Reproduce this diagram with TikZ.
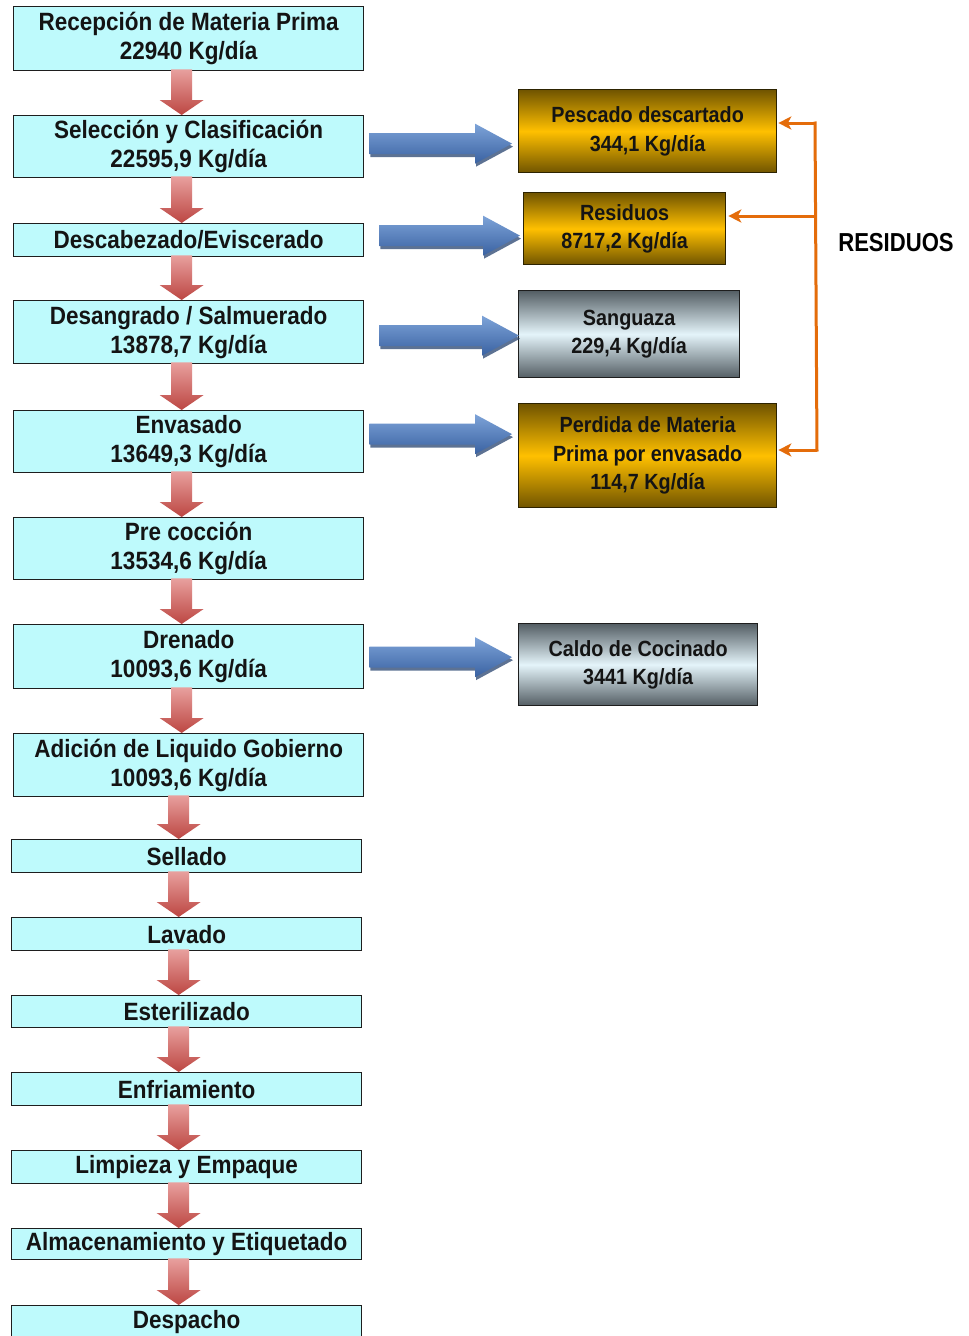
\documentclass[tikz,border=0pt]{standalone}
\usepackage{fontspec}
\newfontfamily\boxfont{Liberation Sans}[FakeStretch=0.9]
\newfontfamily\labfont{Liberation Sans}[FakeStretch=0.85]
\usetikzlibrary{calc,arrows.meta}
\definecolor{cyanfill}{RGB}{190,250,252}
\definecolor{boxline}{RGB}{30,30,30}
\definecolor{textdark}{RGB}{20,20,20}
\definecolor{golddark}{RGB}{112,84,0}
\definecolor{goldmid}{RGB}{255,192,0}
\definecolor{goldline}{RGB}{45,35,0}
\definecolor{graydark}{RGB}{84,94,100}
\definecolor{graymid}{RGB}{228,244,250}
\definecolor{redtop}{RGB}{232,160,158}
\definecolor{redbot}{RGB}{188,70,66}
\definecolor{bluetop}{RGB}{125,163,216}
\definecolor{bluebot}{RGB}{58,98,162}
\definecolor{blueshad}{RGB}{40,68,112}
\definecolor{orangeln}{RGB}{228,108,10}
\newcommand\redarrow[2]{%
  \shade[redarr] ($(#1)+(-10.5,0)$) -- ($(#2)+(-10.5,-15)$) -- ($(#2)+(-22,-15)$) -- (#2)
    -- ($(#2)+(22,-15)$) -- ($(#2)+(10.5,-15)$) -- ($(#1)+(10.5,0)$) -- cycle;}
\newcommand\bluepath[4]{%
  ($(#1)+(#3,{#4-10.5})$) -- ($(#2)+({#3-37},{#4-10.5})$) -- ($(#2)+({#3-37},{#4-20})$)
  -- ($(#2)+(#3,#4)$) -- ($(#2)+({#3-37},{#4+20})$) -- ($(#2)+({#3-37},{#4+10.5})$)
  -- ($(#1)+(#3,{#4+10.5})$) -- cycle}
\newcommand\bluearrow[2]{%
  \fill[blueshad,opacity=0.75] \bluepath{#1}{#2}{1}{3};
  \shade[top color=bluetop,bottom color=bluebot] \bluepath{#1}{#2}{0}{0};}
\begin{document}
\begin{tikzpicture}[x=1pt,y=-1pt,
  lbox/.style={draw=boxline,line width=1.3pt,fill=cyanfill,anchor=north west,
    inner sep=0pt,align=center,text=textdark,minimum width=350pt,
    font=\boxfont\bfseries\fontsize{25}{29}\selectfont},
  rbox/.style={draw=goldline,line width=1.3pt,anchor=north west,inner sep=0pt,
    align=center,text=textdark,font=\boxfont\bfseries\fontsize{22}{28.5}\selectfont},
  goldbox/.style={rbox,top color=golddark,bottom color=golddark,middle color=goldmid},
  graybox/.style={rbox,draw=boxline,top color=graydark,bottom color=graydark,middle color=graymid},
  redarr/.style={top color=redtop,bottom color=redbot},
  oline/.style={draw=orangeln,line width=3pt},
  oarr/.style={oline,-{Stealth[length=13pt,width=13pt,inset=3.5pt]}}]
\useasboundingbox (0,0) rectangle (969,1336);
\fill[white] (0,0) rectangle (969,1336);
% left column
\node[lbox,minimum height=64pt] (b1) at (13,6) {Recepción de Materia Prima\\22940 Kg/día};
\node[lbox,minimum height=62pt] (b2) at (13,115) {Selección y Clasificación\\22595,9 Kg/día};
\node[lbox,minimum height=33pt] (b3) at (13,223) {Descabezado/Eviscerado};
\node[lbox,minimum height=63pt] (b4) at (13,300) {Desangrado / Salmuerado\\13878,7 Kg/día};
\node[lbox,minimum height=62pt] (b5) at (13,410) {Envasado\\13649,3 Kg/día};
\node[lbox,minimum height=62pt] (b6) at (13,517) {Pre cocción\\13534,6 Kg/día};
\node[lbox,minimum height=64pt] (b7) at (13,624) {Drenado\\10093,6 Kg/día};
\node[lbox,minimum height=63pt] (b8) at (13,733) {Adición de Liquido Gobierno\\10093,6 Kg/día};
\node[lbox,minimum height=33pt] (b9) at (11,839) {Sellado};
\node[lbox,minimum height=33pt] (b10) at (11,917) {Lavado};
\node[lbox,minimum height=32pt] (b11) at (11,995) {Esterilizado};
\node[lbox,minimum height=33pt] (b12) at (11,1072) {Enfriamiento};
\node[lbox,minimum height=33pt] (b13) at (11,1150) {Limpieza y Empaque};
\node[lbox,minimum height=31pt] (b14) at (11,1228) {Almacenamiento y Etiquetado};
\node[lbox,minimum height=33pt] (b15) at (11,1305) {Despacho};
% red arrows
\foreach \i/\j/\dx in {b1/b2/-7,b2/b3/-7,b3/b4/-7,b4/b5/-7,b5/b6/-7,b6/b7/-7,b7/b8/-7,
  b8/b9/-10,b9/b10/-8,b10/b11/-8,b11/b12/-8,b12/b13/-8,b13/b14/-8,b14/b15/-8}{
  \coordinate (rs) at ($(\i.south)+(\dx,-2)$);
  \coordinate (rt) at (rs |- \j.north);
  \redarrow{rs}{rt}
}
% right boxes
\node[goldbox,minimum width=258pt,minimum height=83pt] (r1) at (518,89) {Pescado descartado\\344,1 Kg/día};
\node[goldbox,minimum width=202pt,minimum height=72pt] (r2) at (523,192) {Residuos\\8717,2 Kg/día};
\node[graybox,minimum width=221pt,minimum height=87pt] (r3) at (518,290) {Sanguaza\\229,4 Kg/día};
\node[goldbox,minimum width=258pt,minimum height=104pt] (r4) at (518,403) {Perdida de Materia\\Prima por envasado\\114,7 Kg/día};
\node[graybox,minimum width=239pt,minimum height=82pt] (r5) at (518,623) {Caldo de Cocinado\\3441 Kg/día};
% blue arrows
\coordinate (s1) at ($(b2.east)+(5,-3)$);   \coordinate (u1) at (r1.west |- s1);
\coordinate (s2) at ($(b3.east)+(15,-4.5)$); \coordinate (u2) at (r2.west |- s2);
\coordinate (s3) at ($(b4.east)+(15,3.5)$); \coordinate (u3) at (r3.west |- s3);
\coordinate (s4) at ($(b5.east)+(5,-7.5)$); \coordinate (u4) at (r4.west |- s4);
\coordinate (s5) at ($(b7.east)+(5,0.5)$);  \coordinate (u5) at (r5.west |- s5);
\coordinate (t1) at ($(u1)+(-6,0)$);
\coordinate (t2) at ($(u2)+(-3,0)$);
\coordinate (t3) at ($(u3)+(1,0)$);
\coordinate (t4) at ($(u4)+(-6,0)$);
\coordinate (t5) at ($(u5)+(-6,0)$);
\bluearrow{s1}{t1}
\bluearrow{s2}{t2}
\bluearrow{s3}{t3}
\bluearrow{s4}{t4}
\bluearrow{s5}{t5}
% orange bracket
\coordinate (ctop) at (815,123);
\coordinate (cmid) at (815,216);
\coordinate (cbot) at (817,450);
\coordinate (e1) at ($(r1.east |- ctop)+(1,0)$);
\coordinate (e2) at ($(r2.east |- cmid)+(2,0)$);
\coordinate (e4) at ($(r4.east |- cbot)+(1,0)$);
\draw[oline] ($(ctop)+(0,-1.5)$) -- ($(cbot)+(0,1.5)$);
\draw[oarr] (ctop) -- (e1);
\draw[oarr] (cmid) -- (e2);
\draw[oarr] (cbot) -- (e4);
\node[font=\labfont\bfseries\fontsize{26}{30}\selectfont,text=black] (lab) at (896,243) {RESIDUOS};
\end{tikzpicture}
\end{document}
